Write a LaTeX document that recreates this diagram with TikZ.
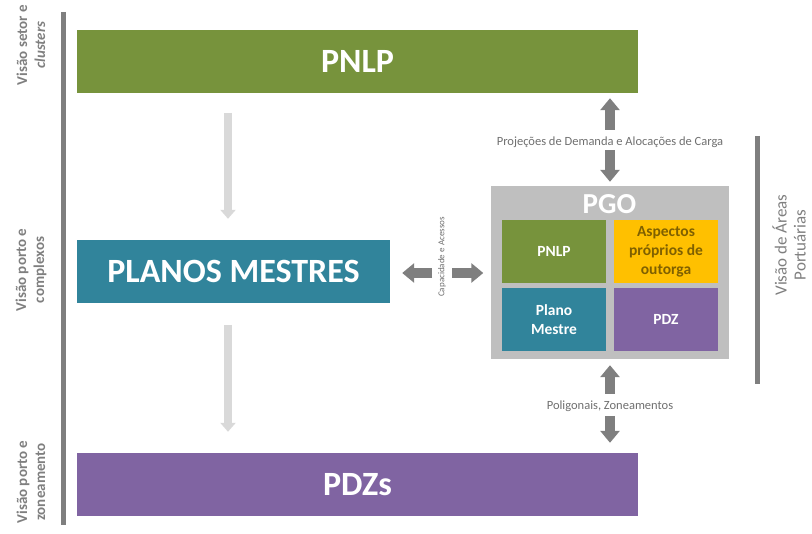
\documentclass[tikz,border=0pt]{standalone}
\usepackage{fontspec}
\setmainfont{Carlito}
\usetikzlibrary{arrows.meta,calc}
\definecolor{cgreen}{HTML}{77933C}
\definecolor{cteal}{HTML}{31849B}
\definecolor{cpurple}{HTML}{8064A2}
\definecolor{cyellow}{HTML}{FFC000}
\definecolor{cbrown}{HTML}{7F6000}
\definecolor{cbox}{HTML}{BFBFBF}
\definecolor{cdark}{HTML}{7F7F7F}
\definecolor{clight}{HTML}{D9D9D9}
\definecolor{ctext}{HTML}{6F6F6F}
\tikzset{
  bigbox/.style={fill=#1, draw=none, inner sep=0pt, text=white, font=\fontsize{34}{36}\selectfont\bfseries},
  smallbox/.style={fill=#1, draw=none, inner sep=0pt, text=white, minimum width=104pt, minimum height=63pt, align=center, font=\fontsize{15.5}{19}\selectfont\bfseries},
  darrow/.style={draw=cdark, line width=10pt, -{Triangle[width=19pt,length=12pt]}},
  larrow/.style={draw=clight, line width=8pt, -{Triangle[width=15pt,length=9pt]}},
  lbl/.style={text=ctext, font=\fontsize{12.5}{14}\selectfont, inner sep=1pt},
  sidelbl/.style={text=cdark, font=\fontsize{15}{18}\selectfont\bfseries, align=center, rotate=90},
  bar/.style={draw=cdark, line width=5pt}
}
\begin{document}
\begin{tikzpicture}[x=1pt,y=-1pt]
\useasboundingbox (0,0) rectangle (812,534);
% main bars
\node[bigbox=cgreen, minimum width=561pt, minimum height=63pt] (pnlp) at (357.5,61.5) {PNLP};
\node[bigbox=cteal, minimum width=313pt, minimum height=63pt] (pm) at (233.5,271.5) {PLANOS MESTRES};
\node[bigbox=cpurple, minimum width=561pt, minimum height=63pt] (pdz) at (357.5,484.5) {PDZs};
% PGO
\node[fill=cbox, draw=none, minimum width=238pt, minimum height=173pt, inner sep=0pt] (pgo) at (609.5,272.5) {};
\node[text=white, font=\fontsize{29}{31}\selectfont\bfseries, inner sep=0pt] (pgot) at (609.5,204) {PGO};
\node[smallbox=cgreen] (ipnlp) at (554,251.5) {PNLP};
\node[smallbox=cyellow, text=cbrown] (iasp) at (666,251.5) {Aspectos\\próprios de\\outorga};
\node[smallbox=cteal] (ipm) at (554,319.5) {Plano\\Mestre};
\node[smallbox=cpurple] (ipdz) at (666,319.5) {PDZ};
% side bars
\coordinate (lb1) at (63,12);
\coordinate (lb2) at (63,525);
\draw[bar] (lb1) -- (lb2);
\coordinate (rb1) at (757,136);
\coordinate (rb2) at (757,384);
\draw[bar] (rb1) -- (rb2);
% side labels
\node[sidelbl] (s1) at (31,45) {Visão setor e\\\textit{clusters}};
\node[sidelbl] (s2) at (31,270) {Visão porto e\\complexos};
\node[sidelbl] (s3) at (31,482) {Visão porto e\\zoneamento};
\node[text=cdark, font=\fontsize{17}{19}\selectfont, align=center, rotate=90] (s4) at (789,245) {Visão de Áreas\\Portuárias};
% light arrows
\coordinate (la1) at (228,113);
\coordinate (la3) at (228,325);
\draw[larrow, shorten >=21pt] (la1) -- (la1 |- pm.north);
\draw[larrow, shorten >=21pt] (la3) -- (la3 |- pdz.north);
% top arrows
\node[lbl] (ltop) at (610,142) {Projeções de Demanda e Alocações de Carga};
\coordinate (ta) at (610,130);
\coordinate (tc) at (610,150);
\draw[darrow, shorten >=5pt] (ta) -- (ta |- pnlp.south);
\draw[darrow, shorten >=4pt] (tc) -- (tc |- pgo.north);
% bottom arrows
\node[lbl] (lbot) at (610,406) {Poligonais, Zoneamentos};
\coordinate (ba) at (610,394);
\coordinate (bc) at (610,416);
\draw[darrow, shorten >=6pt] (ba) -- (ba |- pgo.south);
\draw[darrow, shorten >=10pt] (bc) -- (bc |- pdz.north);
% side arrows
\node[lbl, font=\fontsize{9}{11}\selectfont, rotate=90] (lmid) at (442,257) {Capacidade e Acessos};
\coordinate (ml) at (432,273);
\coordinate (mr) at (452,273);
\draw[darrow, shorten >=12pt] (ml) -- (ml -| pm.east);
\draw[darrow, shorten >=7pt] (mr) -- (mr -| pgo.west);
\end{tikzpicture}
\end{document}
